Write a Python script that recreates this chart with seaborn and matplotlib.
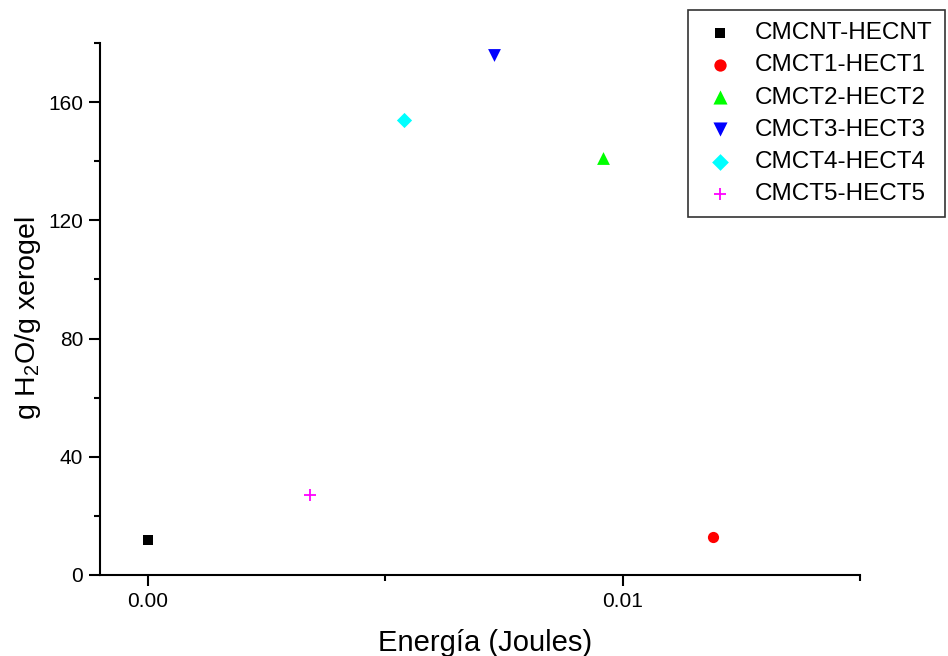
"""Water absorption vs. energy for CMC/HEC xerogels."""
import matplotlib
matplotlib.use('Agg')
import matplotlib.pyplot as plt
from matplotlib.ticker import MultipleLocator, FixedFormatter, FixedLocator
import seaborn as sns

# data
samples = ['CMCNT-HECNT', 'CMCT1-HECT1', 'CMCT2-HECT2',
           'CMCT3-HECT3', 'CMCT4-HECT4', 'CMCT5-HECT5']
energy = [0.0, 0.0119, 0.00958, 0.0073, 0.0054, 0.00342]
absorption = [12, 13, 141, 176, 154, 27]

colors = ['#000000', '#ff0000', '#00ff00', '#0000ff', '#00ffff', '#ff00ff']
markers = ['s', 'o', '^', 'v', 'D', '+']
sizes = [50, 65, 85, 85, 60, 70]

sns.set_style('ticks')
plt.rcParams['font.family'] = ['Liberation Sans', 'DejaVu Sans']
plt.rcParams.update({'text.color': 'black', 'axes.labelcolor': 'black',
                     'xtick.color': 'black', 'ytick.color': 'black',
                     'axes.edgecolor': 'black', 'mathtext.fontset': 'custom',
                     'mathtext.rm': 'Liberation Sans'})

fig = plt.figure(figsize=(9.48, 6.56), dpi=100)
ax = fig.add_axes([100 / 948, 81 / 656, 760 / 948, 532 / 656])

# one call per sample (filled and line markers can't be mixed in one call)
for name, xv, yv, c, m, s in zip(samples, energy, absorption, colors, markers, sizes):
    lw = 1.3 if m == '+' else 0
    sns.scatterplot(x=[xv], y=[yv], color=c, marker=m, s=s,
                    linewidth=lw, ax=ax, label=name, legend=False)

ax.set_xlim(-0.00101, 0.015)
ax.set_ylim(0, 180)
ax.xaxis.set_major_locator(FixedLocator([0.0, 0.01]))
ax.xaxis.set_major_formatter(FixedFormatter(['0.00', '0.01']))
ax.xaxis.set_minor_locator(MultipleLocator(0.005))
ax.yaxis.set_major_locator(MultipleLocator(40))
ax.yaxis.set_minor_locator(MultipleLocator(20))
ax.tick_params(which='major', length=8, width=1.5, labelsize=15,
               direction='out', pad=4)
ax.tick_params(which='minor', length=4.3, width=1.5, direction='out')
for side in ['left', 'bottom']:
    ax.spines[side].set_linewidth(1.5)
sns.despine(ax=ax)

ax.set_xlabel('Energía (Joules)', fontsize=21, labelpad=13)
ax.set_ylabel('g H$_2$O/g xerogel', fontsize=20.5, labelpad=4)
ax.xaxis.label.set_x(0.507)
ax.yaxis.label.set_y(0.483)

handles, labels = ax.get_legend_handles_labels()
leg = fig.legend(handles, labels, loc='upper right',
                 bbox_to_anchor=(945 / 948, 1 - 10 / 656), fontsize=17.5,
                 frameon=True, fancybox=False, edgecolor='#333333',
                 framealpha=1, borderpad=0.5, labelspacing=0.42,
                 handlelength=1.6, handletextpad=0.65, borderaxespad=0,
                 markerscale=1.1)
leg.get_frame().set_linewidth(1.2)

fig.savefig('out.png', dpi=100)
